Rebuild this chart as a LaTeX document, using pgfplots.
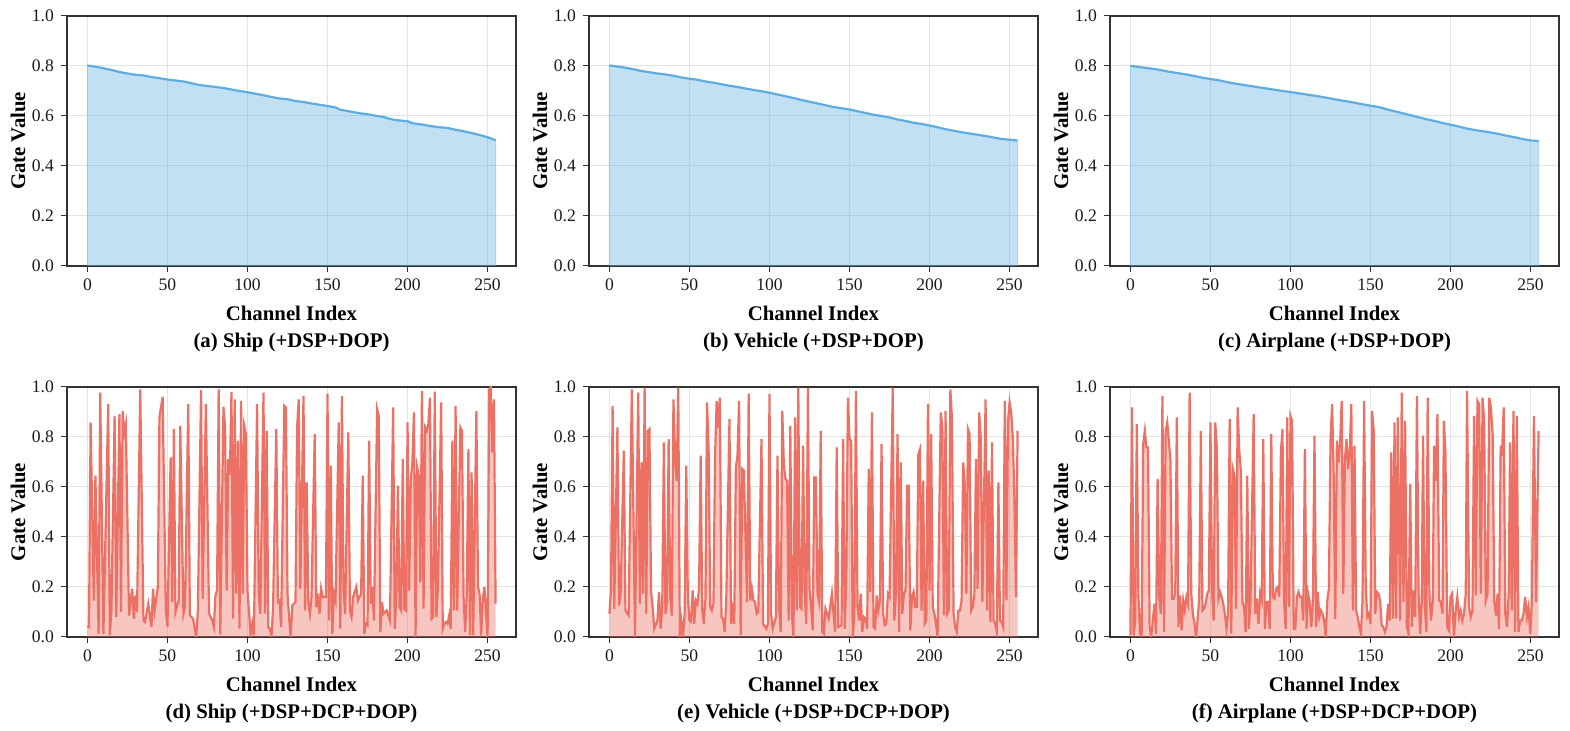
\documentclass[border=0pt]{standalone}
\usepackage{fontspec}
\setmainfont{Liberation Serif}
\usepackage{pgfplots}
\usepackage{pgfplotstable}
\pgfplotsset{compat=1.18}
\definecolor{cblue}{HTML}{5DADE2}
\definecolor{cred}{HTML}{EC7063}
\definecolor{frame}{HTML}{333333}

\pgfplotstableread{
x y
0 0.802
5 0.797
10 0.791
15 0.784
20 0.776
25 0.770
30 0.765
35 0.762
40 0.756
45 0.751
50 0.746
55 0.742
60 0.738
65 0.731
70 0.724
75 0.720
80 0.716
85 0.712
90 0.706
95 0.700
100 0.695
105 0.689
110 0.683
115 0.676
120 0.670
125 0.667
130 0.660
135 0.656
140 0.650
145 0.645
150 0.640
155 0.634
158 0.625
165 0.617
170 0.611
175 0.607
180 0.601
185 0.596
188 0.590
192 0.584
200 0.579
203 0.571
210 0.565
215 0.559
220 0.555
225 0.552
230 0.545
235 0.539
240 0.532
245 0.524
250 0.515
255 0.503
}\tA

\pgfplotstableread{
x y
0 0.802
5 0.798
10 0.793
15 0.787
20 0.780
25 0.775
30 0.770
35 0.766
40 0.761
45 0.754
50 0.749
55 0.745
60 0.738
65 0.733
70 0.727
75 0.721
80 0.716
85 0.710
90 0.704
95 0.699
100 0.693
105 0.686
110 0.679
115 0.672
120 0.664
125 0.657
130 0.650
135 0.643
140 0.636
145 0.631
150 0.626
155 0.619
160 0.612
165 0.605
170 0.600
175 0.594
180 0.586
185 0.580
190 0.573
195 0.568
200 0.562
205 0.555
210 0.547
215 0.541
220 0.535
225 0.530
230 0.525
235 0.520
240 0.514
245 0.508
250 0.505
255 0.502
}\tB

\pgfplotstableread{
x y
0 0.801
5 0.796
10 0.792
15 0.788
20 0.782
25 0.776
30 0.771
35 0.766
40 0.760
45 0.753
50 0.748
55 0.743
60 0.736
65 0.730
70 0.725
75 0.720
80 0.715
85 0.710
90 0.705
95 0.700
100 0.696
105 0.691
110 0.686
115 0.681
120 0.676
125 0.670
130 0.664
135 0.659
140 0.653
145 0.647
150 0.641
155 0.636
160 0.627
165 0.619
170 0.611
175 0.603
180 0.595
185 0.587
190 0.580
195 0.572
200 0.565
205 0.558
210 0.550
215 0.544
220 0.539
225 0.534
230 0.528
235 0.521
240 0.515
245 0.508
250 0.502
255 0.500
}\tC

\pgfplotstableread{
x y
0 0.044
1 0.04
2 0.858
4 0.146
5 0.645
7 0.013
8 0.977
10 0.013
13 0.931
14 0.007
15 0.106
17 0.884
18 0.08
20 0.891
21 0.1
22 0.904
23 0.818
24 0.851
26 0.086
28 0.193
29 0.073
30 0.166
31 0.1
33 0.99
35 0.066
36 0.06
38 0.133
40 0.04
41 0.193
42 0.106
44 0.2
45 0.88
47 0.96
49 0.106
50 0.04
52 0.718
53 0.14
54 0.831
55 0.1
57 0.146
58 0.844
60 0.093
61 0.12
63 0.931
64 0.086
66 0.073
68 0
69 0.106
71 0.987
72 0.153
74 0.931
76 0.093
78 0.066
79 0.04
80 0.166
81 0.186
82 0.99
83 0.01
85 0.92
86 0.838
87 0.186
88 0.711
89 0.65
90 0.98
91 0.073
92 0.95
93 0.173
94 0.785
95 0.033
96 0.944
97 0.173
98 0.844
99 0.811
100 0.186
102 0.007
103 0.053
104 0.007
106 0.931
107 0.173
108 0.093
110 0.977
111 0.093
112 0.824
113 0.04
114 0.033
115 0
116 0.12
118 0.831
119 0.14
120 0.146
121 0.04
123 0.924
124 0.918
125 0.173
126 0.08
127 0
128 0.126
130 0.14
131 0.838
132 0.95
133 0.193
135 0.964
136 0.106
137 0.618
138 0.14
139 0.093
140 0.16
142 0.811
143 0.12
144 0.173
145 0.093
146 0.193
147 0.16
149 0.16
150 0.973
151 0.066
152 0.685
153 0.013
154 0.173
155 0.146
157 0.858
158 0.033
159 0.964
160 0.186
161 0.093
163 0.818
164 0.106
165 0.08
166 0.16
168 0.2
169 0.146
171 0.173
172 0.645
173 0.013
174 0.053
175 0.047
176 0.785
177 0.133
178 0.2
179 0.066
181 0.911
182 0.884
183 0.02
184 0.14
185 0.093
187 0.106
188 0.086
189 0.066
191 0.918
192 0.033
193 0.16
194 0.605
195 0.12
196 0.106
197 0.711
198 0.113
199 0.106
200 0.858
201 0.186
202 0.625
203 0.698
204 0.898
205 0
206 0.678
207 0.645
208 0.219
209 0.984
210 0.113
211 0.838
212 0.824
213 0.851
214 0.957
215 0.073
216 0.08
217 0.981
218 0.08
219 0.206
221 0.938
222 0.033
223 0.053
224 0.06
225 0.053
226 0.086
227 0.033
228 0.785
229 0.106
230 0.924
231 0.106
233 0.838
234 0.824
235 0.16
236 0.02
237 0.173
238 0.751
239 0.007
240 0.658
241 0.007
243 0.904
244 0.2
245 0.173
246 0.007
247 0.153
248 0.2
250 0
251 0.99
252 1.0
253 0.738
254 0.95
255 0.133
}\tD

\pgfplotstableread{
x y
0 0.093
1 0.186
2 0.924
3 0.113
5 0.838
6 0.126
7 0.173
9 0.745
10 0.106
12 0.086
14 0.99
16 0
18 0.977
19 0.133
20 0.698
21 0.173
22 0.997
23 0.093
24 0.824
25 0.831
26 0.186
27 0.12
28 0.033
30 0.066
31 0.18
32 0.033
33 0.12
34 0.778
35 0.093
36 0.14
37 0.791
38 0.16
39 0.086
40 0.95
41 0.725
42 0.625
43 0.997
44 0
45 0.06
46 0
47 0.093
48 0.685
49 0.16
50 0.066
51 0.06
52 0.186
53 0.053
54 0.146
55 0.133
56 0.193
57 0.725
58 0.106
59 0.053
60 0.153
61 0.938
62 0.738
63 0.12
64 0.106
65 0.133
66 0.725
67 0.944
68 0.838
69 0.957
70 0.08
71 0.073
72 0.02
73 0.146
75 0.871
76 0.053
77 0.106
78 0.053
79 0.678
80 0.725
81 0.944
82 0.007
83 0.672
84 0.665
86 0.14
87 0.973
88 0.146
89 0.193
90 0.146
91 0.14
92 0.093
93 0.1
95 0.791
96 0.053
98 0.033
99 0.053
100 0.971
101 0.093
102 0.033
104 0.08
105 0.725
106 0.12
107 0.02
108 0.904
109 0.685
110 0.632
111 0.625
112 0.066
113 0.844
114 0.093
115 0
116 0.878
117 0.106
118 0.997
119 0.12
120 0.113
121 0.765
122 0.173
123 0.053
124 0.997
125 0.193
126 0.12
127 0.027
128 0.638
129 0.638
130 0.173
131 0.14
132 0.824
133 0.02
134 0.013
135 0.113
136 0.093
137 0.073
139 0.173
140 0.093
141 0.02
142 0.758
143 0.04
145 0.047
146 0.791
147 0.033
148 0.233
149 0.957
150 0.791
151 0.785
152 0
153 0.08
154 0.984
155 0.12
156 0.066
157 0.173
158 0.02
159 0.08
160 0.073
161 0.033
162 0.672
163 0.18
164 0.898
165 0.04
166 0.033
167 0.166
168 0.106
169 0.146
170 0.771
171 0.093
172 0.047
173 0.053
174 0.173
175 0.16
177 0.997
178 0.066
179 0.173
180 0.811
181 0.02
182 0.698
183 0.093
184 0.173
185 0.186
186 0.605
187 0.605
188 0.027
189 0.16
190 0.18
191 0.12
192 0.12
193 0.731
194 0.751
195 0.106
196 0.625
197 0.053
198 0.066
199 0.931
200 0.186
201 0.811
202 0.12
203 0.093
204 0.053
205 0
207 0.898
208 0.838
209 0.086
210 0.904
211 0.093
212 0.106
213 0.99
214 0.871
215 0.093
216 0.04
217 0.02
218 0.106
219 0.106
220 0.146
221 0.698
222 0.612
223 0.173
224 0.831
225 0.811
226 0.106
227 0.12
228 0.173
229 0.711
230 0.193
231 0.898
232 0.798
233 0.14
235 0.95
236 0.106
237 0.665
238 0.06
239 0.778
240 0.066
241 0.053
242 0.02
243 0.618
244 0.066
245 0.06
246 0.04
247 0.944
248 0.146
249 0.864
250 0.938
251 0.898
252 0.798
253 0.559
254 0.16
255 0.824
}\tE

\pgfplotstableread{
x y
0 0.007
1 0.918
2 0.007
3 0.066
4 0.851
5 0.16
6 0.013
7 0.007
8 0.771
9 0.824
10 0.758
11 0.758
12 0.04
13 0
14 0.066
15 0.133
16 0.013
17 0.632
18 0.16
19 0.093
20 0.964
21 0.02
22 0.824
23 0.858
24 0.785
25 0.705
26 0.153
27 0.153
28 0.173
29 0.878
30 0.04
31 0.166
32 0.027
33 0.146
34 0.106
35 0.16
36 0.133
37 0.977
38 0.173
39 0.093
40 0.053
41 0
42 0.073
43 0.153
44 0.824
45 0.106
46 0.113
47 0.133
48 0.173
49 0.186
50 0.858
51 0.18
52 0.066
53 0.858
54 0.758
55 0.153
56 0.18
57 0.16
58 0.133
59 0.093
60 0.033
61 0.093
62 0.871
63 0.013
64 0.672
65 0.645
66 0.113
67 0.918
68 0.745
69 0.665
70 0.14
71 0.12
72 0.02
73 0.645
74 0.033
75 0.146
77 0.891
78 0.093
79 0.153
80 0.053
81 0.173
82 0.146
83 0.791
84 0.033
85 0.14
86 0.14
87 0.033
88 0.811
89 0.16
90 0.153
91 0.193
92 0.2
93 0.16
94 0.738
95 0.831
96 0.146
97 0.033
98 0.878
99 0.12
100 0.884
101 0.864
102 0.033
103 0.033
104 0.16
105 0.18
106 0.16
107 0.16
108 0.066
109 0.751
110 0.033
111 0.173
112 0.14
113 0.04
114 0.14
115 0.805
116 0.04
117 0.18
118 0.08
119 0.106
120 0.093
121 0.066
122 0
123 0.146
124 0.193
125 0.785
126 0.931
127 0.645
128 0.073
129 0.785
130 0.698
131 0.778
132 0.944
133 0.173
134 0.711
135 0.791
136 0.672
137 0.738
138 0.931
139 0.106
140 0.765
141 0.106
142 0.08
143 0.04
144 0.013
145 0.146
146 0.944
147 0.2
148 0.08
149 0.093
150 0.053
151 0.904
152 0.824
153 0.093
154 0.18
155 0.173
156 0.146
157 0.047
158 0.04
159 0.02
160 0.04
161 0.133
162 0.066
163 0.738
164 0.073
165 0.858
166 0.073
167 0.878
168.5 0.066
169.5 0.977
170.6 0.14
171.6 0.864
172.7 0.04
173.7 0.013
174.8 0.612
175.8 0.04
176.9 0.186
177.9 0.08
179 0.964
180 0.173
181 0.013
182 0.14
182.8 0.805
183.8 0.133
184.9 0.02
185.7 0.957
186.8 0.173
187.8 0.066
188.9 0.146
189.7 0.765
190.8 0.625
191.8 0.891
192.9 0.146
193.9 0.14
195 0.093
195.8 0.864
196.8 0.738
197.9 0.04
198.9 0.027
200 0.16
201 0.173
202.1 0
203.2 0.106
204.2 0.16
205.3 0.08
206.3 0.106
207.4 0.066
208.4 0.093
209.5 0.173
210.3 0.984
211.6 0.12
212.6 0.08
213.7 0.106
214.7 0.884
215.8 0.166
216.8 0.944
217.9 0.931
218.9 0.173
220 0.957
221 0.864
222 0.146
223.1 0.173
224.2 0.957
225.2 0.918
226.3 0.811
227.3 0.146
228.4 0.086
229.4 0.173
230.3 0.033
231.3 0.765
232.1 0.725
233.2 0.918
234.2 0.093
235.3 0.04
236.3 0.173
237.2 0.778
238.2 0.106
239.3 0.904
240.3 0.02
241.4 0.884
242.4 0.02
243.5 0.066
244.5 0.066
245.6 0.093
246.6 0.16
247.7 0.08
248.7 0.12
249.8 0.013
250.8 0.14
252.1 0.884
253.4 0.14
255 0.824
}\tF

\pgfplotsset{
  gs/.style={
    scale only axis, width=224.5pt, height=125pt,
    xmin=-12.75, xmax=267.75, ymin=0, ymax=1,
    xtick={0,50,100,150,200,250},
    ytick={0,0.2,0.4,0.6,0.8,1.0},
    yticklabel style={/pgf/number format/.cd, fixed, fixed zerofill, precision=1},
    /pgf/number format/assume math mode=true,
    tick pos=left, tick align=outside,
    major tick length=3pt,
    every tick/.style={frame, line width=0.5pt},
    axis line style={frame, line width=0.6pt},
    grid=major,
    major grid style={black!11, line width=0.5pt},
    tick label style={font=\fontsize{8.8}{10}\selectfont, text=black!90},
    ylabel={Gate Value},
    label style={font=\fontsize{10.4}{13.7}\selectfont\bfseries},
    xlabel style={at={(axis description cs:0.5,-0.252)}, anchor=center, align=center},
    ylabel style={at={(axis description cs:-0.109,0.5)}, anchor=center},
    anchor=south west,
  },
  bfill/.style={draw=cblue, draw opacity=0.35, line width=0.5pt, fill=cblue, fill opacity=0.38},
  bline/.style={cblue, line width=1.1pt},
  rfill/.style={draw=none, fill=cred, fill opacity=0.4},
  rline/.style={cred, line width=1.1pt},
}

\begin{document}
\begin{tikzpicture}
\useasboundingbox (0,0) rectangle (785pt,365.5pt);

\begin{axis}[gs, at={(33.5pt,232.5pt)}, xlabel={Channel Index\\(a) Ship (+DSP+DOP)}]
\addplot[bfill] table[x=x,y=y] {\tA} \closedcycle;
\addplot[bline] table[x=x,y=y] {\tA};
\end{axis}

\begin{axis}[gs, at={(294.5pt,232.5pt)}, xlabel={Channel Index\\(b) Vehicle (+DSP+DOP)}]
\addplot[bfill] table[x=x,y=y] {\tB} \closedcycle;
\addplot[bline] table[x=x,y=y] {\tB};
\end{axis}

\begin{axis}[gs, at={(555pt,232.5pt)}, xlabel={Channel Index\\(c) Airplane (+DSP+DOP)}]
\addplot[bfill] table[x=x,y=y] {\tC} \closedcycle;
\addplot[bline] table[x=x,y=y] {\tC};
\end{axis}

\begin{axis}[gs, at={(33.5pt,47pt)}, xlabel={Channel Index\\(d) Ship (+DSP+DCP+DOP)}]
\addplot[rfill] table[x=x,y=y] {\tD} \closedcycle;
\addplot[rline] table[x=x,y=y] {\tD};
\end{axis}

\begin{axis}[gs, at={(294.5pt,47pt)}, xlabel={Channel Index\\(e) Vehicle (+DSP+DCP+DOP)}]
\addplot[rfill] table[x=x,y=y] {\tE} \closedcycle;
\addplot[rline] table[x=x,y=y] {\tE};
\end{axis}

\begin{axis}[gs, at={(555pt,47pt)}, xlabel={Channel Index\\(f) Airplane (+DSP+DCP+DOP)}]
\addplot[rfill] table[x=x,y=y] {\tF} \closedcycle;
\addplot[rline] table[x=x,y=y] {\tF};
\end{axis}
\end{tikzpicture}
\end{document}
